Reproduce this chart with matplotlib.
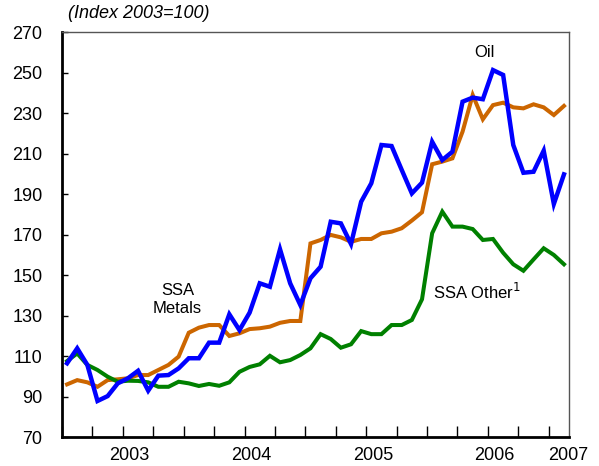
import numpy as np
import matplotlib.pyplot as plt

plt.rcParams['font.family'] = ['Liberation Sans', 'DejaVu Sans']

# monthly index, Jan 2003 - Feb 2007 (2003=100)
oil = [106.4, 113.8, 105.6, 87.8, 90.2, 96.5, 99.0, 102.7, 92.9, 100.3, 100.6, 103.9,
       108.9, 108.9, 116.6, 116.6, 130.6, 122.8, 131.4, 145.9, 144.2, 162.7, 145.9, 135.2,
       148.4, 154.1, 176.3, 175.5, 165.3, 186.2, 195.3, 214.2, 213.7, 201.9, 190.3, 195.6,
       215.8, 206.8, 210.9, 235.6, 237.6, 236.8, 251.2, 248.8, 214.2, 200.5, 201.0, 211.4,
       185.1, 199.7]
metals = [96.0, 98.1, 97.0, 94.8, 98.1, 98.5, 99.0, 100.6, 100.6, 103.1, 105.6, 109.7,
          121.5, 124.0, 125.3, 125.3, 119.9, 121.2, 123.3, 123.7, 124.5, 126.4, 127.3, 127.3,
          165.6, 167.3, 169.8, 168.6, 166.4, 167.8, 167.8, 170.6, 171.4, 173.1, 176.9, 181.0,
          204.7, 206.0, 207.6, 220.8, 238.9, 226.9, 233.9, 235.1, 232.8, 232.3, 234.3, 232.8,
          229.0, 233.5]
other = [107.5, 111.3, 105.6, 103.1, 99.8, 97.3, 97.8, 97.7, 97.0, 94.8, 94.8, 97.3,
         96.5, 95.2, 96.2, 95.3, 97.0, 102.2, 104.6, 105.9, 110.1, 106.9, 108.0, 110.5,
         113.8, 120.8, 118.4, 114.1, 115.8, 122.3, 120.8, 120.8, 125.3, 125.3, 127.8, 138.0,
         170.6, 181.3, 173.9, 173.9, 172.7, 167.3, 167.8, 161.0, 155.3, 152.1, 157.7, 163.2,
         159.9, 155.3]
years = ['2003', '2004', '2005', '2006', '2007']
year_pos = [6.1, 18.2, 30.2, 42.1, 49.4]

x = np.arange(len(oil))

fig = plt.figure(figsize=(5.99, 4.66), dpi=100)
ax = fig.add_axes([0.1035, 0.0622, 0.8465, 0.8691])

ax.plot(x, metals, color='#cc6600', lw=2.9, solid_joinstyle='miter', zorder=2)
ax.plot(x, other, color='#008000', lw=2.9, solid_joinstyle='miter', zorder=3)
ax.plot(x, oil, color='#0000ff', lw=3.2, solid_joinstyle='miter', zorder=4)

ax.set_xlim(-0.5, len(oil) - 0.5)
ax.set_ylim(70, 270)
ax.set_yticks(range(70, 271, 20))
ax.set_xticks(np.arange(-0.5, len(oil), 3))
ax.set_xticklabels([])
ax.set_xticks(year_pos, minor=True)
ax.set_xticklabels(years, minor=True)
ax.tick_params(axis='x', which='major', direction='in', length=8, width=1, color='black')
ax.tick_params(axis='x', which='minor', length=0, pad=7, labelsize=13)
ax.tick_params(axis='y', direction='in', length=4.5, width=1, pad=14, labelsize=13)

for s in ['left', 'bottom']:
    ax.spines[s].set_linewidth(2)
    ax.spines[s].set_color('black')
for s in ['top', 'right']:
    ax.spines[s].set_linewidth(1)
    ax.spines[s].set_color('#555555')

fig.text(68 / 599, 1 - 13 / 466, '(Index 2003=100)', style='italic', fontsize=13,
         ha='left', va='center')

ax.text(41.2, 260, 'Oil', fontsize=12, ha='center', va='center')
ax.text(10.9, 137.7, 'SSA\nMetals', fontsize=12, ha='center', va='center', linespacing=1.25)
ax.text(36.1, 141.6, 'SSA Other$^1$', fontsize=12, ha='left', va='center')

fig.savefig('out.png', dpi=100)
